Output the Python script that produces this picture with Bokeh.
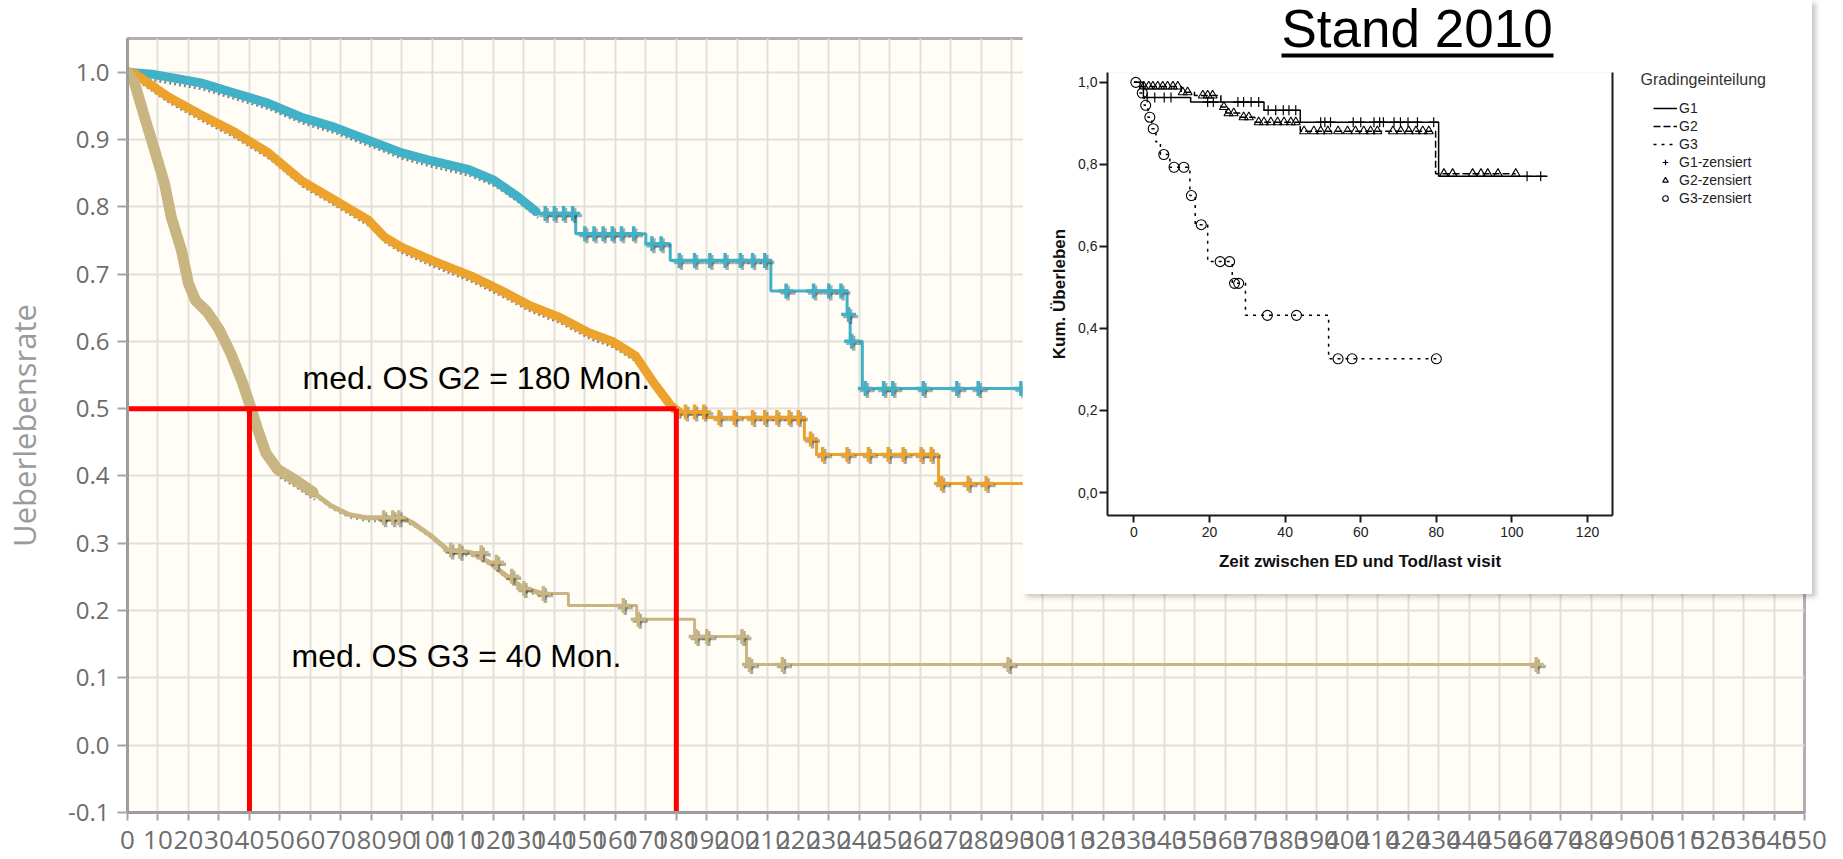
from bokeh.plotting import figure
from bokeh.models import (Range1d, FixedTicker, CustomJSTickFormatter, Label,
                          Legend, LegendItem)
from bokeh.embed import file_html
from bokeh.resources import INLINE

# ------------------------------------------------------------------
# Main chart data (months, survival rate)
# ------------------------------------------------------------------
x_ticks = list(range(0, 551, 10))
y_ticks = [-0.1, 0.0, 0.1, 0.2, 0.3, 0.4, 0.5, 0.6, 0.7, 0.8, 0.9, 1.0]

# G1 (teal)
g1_band_t = [0, 8, 24, 35, 46, 57, 68, 79, 90, 100, 112, 120, 128, 134]
g1_band_s = [1.0, 0.997, 0.984, 0.969, 0.954, 0.933, 0.918, 0.899, 0.880, 0.868, 0.855, 0.840, 0.815, 0.793]
g1_step_t = [134, 147, 170, 178, 211, 236, 237, 241, 300]
g1_step_s = [0.79, 0.76, 0.745, 0.72, 0.675, 0.64, 0.60, 0.53, 0.53]
g1_cens_t = [137, 140, 143, 146, 150, 153, 156, 159, 162, 166, 172, 175, 181, 186, 191, 196, 201, 205, 209,
             216, 225, 230, 234, 236.5, 237.5, 242, 248, 251, 261, 272, 279, 293]
g1_cens_s = [0.79, 0.79, 0.79, 0.79, 0.76, 0.76, 0.76, 0.76, 0.76, 0.76, 0.745, 0.745, 0.72, 0.72, 0.72, 0.72,
             0.72, 0.72, 0.72, 0.675, 0.675, 0.675, 0.675, 0.64, 0.60, 0.53, 0.53, 0.53, 0.53, 0.53, 0.53, 0.53]

# G2 (orange)
g2_band_t = [0, 2.3, 13.4, 24.3, 35.1, 46.2, 57, 67.9, 79, 84.3, 89.8, 100, 112.8, 122.4, 132, 141.6,
             151.3, 159, 166.7, 172.5, 178.3, 181]
g2_band_s = [1.0, 0.998, 0.963, 0.936, 0.911, 0.880, 0.839, 0.810, 0.780, 0.755, 0.740, 0.720, 0.697, 0.676,
             0.653, 0.636, 0.613, 0.600, 0.578, 0.539, 0.504, 0.495]
g2_step_t = [181, 190, 222, 226, 266, 300]
g2_step_s = [0.495, 0.487, 0.455, 0.432, 0.389, 0.389]
g2_cens_t = [183, 186, 189, 194, 199, 205, 209, 213, 217, 220, 224, 228, 236, 243, 249.5, 254.4, 260.3,
             263.6, 267, 275.7, 281.6]
g2_cens_s = [0.495, 0.495, 0.495, 0.487, 0.487, 0.487, 0.487, 0.487, 0.487, 0.487, 0.455, 0.432, 0.432,
             0.432, 0.432, 0.432, 0.432, 0.432, 0.389, 0.389, 0.389]

# G3 (tan)
g3_band_t = [0, 2.3, 5.6, 8.9, 12.1, 14.4, 17.7, 20, 22.3, 26.1, 30, 33.8, 37.7, 40.4, 42.7, 45.4, 49.2, 55, 60.8]
g3_band_s = [1.0, 0.984, 0.933, 0.884, 0.835, 0.784, 0.735, 0.686, 0.661, 0.644, 0.618, 0.583, 0.539, 0.502,
             0.469, 0.434, 0.410, 0.394, 0.376]
g3_mid_t = [60.8, 66.6, 72.4, 78.2, 90, 93.6, 99.3, 105, 112.8, 118.6, 124.4, 130, 136]
g3_mid_s = [0.376, 0.356, 0.343, 0.338, 0.338, 0.330, 0.312, 0.290, 0.286, 0.272, 0.251, 0.233, 0.2255]
g3_step_t = [136, 144.6, 167, 186, 203, 462]
g3_step_s = [0.2255, 0.2077, 0.187, 0.1616, 0.12, 0.12]
g3_cens_t = [84, 87, 89, 106, 109, 116, 121, 126, 130, 136.4, 162.6, 167.5, 186.5, 190, 201.5, 204, 214.8, 288.8, 462]
g3_cens_s = [0.338, 0.338, 0.338, 0.290, 0.288, 0.286, 0.272, 0.251, 0.233, 0.2255, 0.2077, 0.187, 0.1616,
             0.1616, 0.1616, 0.12, 0.12, 0.12, 0.12]

# medians
median_months = [40, 180]
median_level = 0.5

# ------------------------------------------------------------------
# Inset (SPSS, Stand 2010) data
# ------------------------------------------------------------------
in_x_ticks = [0, 20, 40, 60, 80, 100, 120]
in_y_ticks = [0.0, 0.2, 0.4, 0.6, 0.8, 1.0]
legend_labels = ["G1", "G2", "G3", "G1-zensiert", "G2-zensiert", "G3-zensiert"]

i1_t = [0, 2.5, 15, 34.4, 44, 80.6, 109.4]
i1_s = [1.0, 0.963, 0.952, 0.932, 0.903, 0.771, 0.771]
i1_cens_t = [3.5, 5.5, 8, 9.8, 19.5, 21, 27.5, 29, 31, 33, 35.5, 37.5, 39.5, 41, 42.8,
             49.4, 50.5, 52, 58, 60, 63.5, 65, 66, 68.8, 70.5, 72.5, 75, 79.3, 104, 107.6]
i1_cens_s = [0.963, 0.963, 0.963, 0.963, 0.952, 0.952, 0.952, 0.952, 0.952, 0.952, 0.932, 0.932, 0.932, 0.932, 0.932,
             0.903, 0.903, 0.903, 0.903, 0.903, 0.903, 0.903, 0.903, 0.903, 0.903, 0.903, 0.903, 0.903, 0.771, 0.771]

i2_t = [0, 1.5, 12.5, 16, 23, 24.3, 28, 32, 44, 79.8, 101]
i2_s = [1.0, 0.99, 0.976, 0.968, 0.94, 0.925, 0.915, 0.903, 0.881, 0.777, 0.777]
i2_cens_t = [2.6, 3.9, 5.0, 6.3, 7.6, 8.9, 10.3, 11.6, 12.9, 14.2, 18.2, 19.5, 20.8, 23.8, 25, 26.4, 29, 30.4,
             33, 34.4, 36.2, 38, 39.7, 41.5, 42.8, 45, 47.6, 49.4, 51.3, 54, 56.5, 58.6, 60.8, 62.6, 64.4,
             68.5, 70.6, 72.7, 74.6, 76.4, 78, 82, 84.3, 89.6, 91.8, 93.6, 96.3, 101]
i2_cens_s = [0.99, 0.99, 0.99, 0.99, 0.99, 0.99, 0.99, 0.99, 0.976, 0.976, 0.968, 0.968, 0.968, 0.94, 0.925, 0.925,
             0.915, 0.915, 0.903, 0.903, 0.903, 0.903, 0.903, 0.903, 0.903, 0.881, 0.881, 0.881, 0.881, 0.881,
             0.881, 0.881, 0.881, 0.881, 0.881, 0.881, 0.881, 0.881, 0.881, 0.881, 0.881, 0.777, 0.777, 0.777,
             0.777, 0.777, 0.777, 0.777]

i3_t = [0, 1.5, 2.7, 3.7, 4.7, 5.8, 7, 9.5, 14.8, 16.2, 19.5, 26, 29.5, 51.5, 80]
i3_s = [1.0, 0.974, 0.944, 0.915, 0.887, 0.855, 0.824, 0.793, 0.724, 0.653, 0.563, 0.51, 0.432, 0.326, 0.326]
i3_cens_t = [0.5, 2.2, 3.1, 4.2, 5.1, 7.9, 10.6, 13.2, 15.2, 17.8, 22.8, 25.3, 26.6, 27.7, 35.3, 43, 54, 57.7, 80]
i3_cens_s = [1.0, 0.974, 0.944, 0.915, 0.887, 0.824, 0.793, 0.793, 0.724, 0.653, 0.563, 0.563, 0.51, 0.51,
             0.432, 0.432, 0.326, 0.326, 0.326]

# ------------------------------------------------------------------
# Styling / main figure
# ------------------------------------------------------------------
TEAL = "#41b1c7"
ORANGE = "#eba32e"
TAN = "#c8b582"
GRAY_TXT = "#6d6d6d"

W, H = 1843, 859
BL, BT, BR, BB = 126, 38, 39, 47
X0, X1 = 0, 550
Y0, Y1 = -0.1, 1.05
PX_X = (W - BL - BR) / (X1 - X0)
PX_Y = (H - BT - BB) / (Y1 - Y0)

p = figure(width=W, height=H, output_backend="svg", toolbar_location=None,
           x_range=Range1d(X0, X1), y_range=Range1d(Y0, Y1),
           min_border_left=BL, min_border_right=BR, min_border_top=BT, min_border_bottom=BB)
p.background_fill_color = "#fffdf5"
p.border_fill_color = "white"
p.outline_line_color = "#b0b0b0"
p.outline_line_width = 3

p.xaxis.ticker = FixedTicker(ticks=x_ticks)
p.yaxis.ticker = FixedTicker(ticks=y_ticks)
p.yaxis.formatter = CustomJSTickFormatter(code="return tick.toFixed(1)")
p.xgrid.ticker = FixedTicker(ticks=x_ticks)
p.ygrid.ticker = FixedTicker(ticks=y_ticks)
for g in (p.xgrid, p.ygrid):
    g.grid_line_color = "#e2e0da"
    g.grid_line_width = 2

for ax in (p.xaxis, p.yaxis):
    ax.axis_line_color = "#9c9c9c"
    ax.axis_line_width = 3
    ax.major_tick_line_color = "#a5a5a5"
    ax.major_tick_line_width = 2
    ax.major_tick_in = 0
    ax.minor_tick_in = 0
    ax.minor_tick_out = 0
    ax.major_label_text_color = GRAY_TXT
    ax.major_label_text_font = "Open Sans"

p.xaxis.major_tick_out = 8
p.xaxis.major_label_text_font_size = "26px"
p.xaxis.major_label_standoff = 10
p.yaxis.major_tick_out = 10
p.yaxis.major_label_text_font_size = "24px"
p.yaxis.major_label_standoff = 8
p.yaxis.axis_label = "Ueberlebensrate"
p.yaxis.axis_label_text_font = "Open Sans"
p.yaxis.axis_label_text_font_size = "31px"
p.yaxis.axis_label_text_font_style = "normal"
p.yaxis.axis_label_text_color = "#9a9a9a"
p.yaxis.axis_label_standoff = 20

sdx = 2.0 / PX_X
sdy = 2.0 / PX_Y


def draw_curve(band_t, band_s, step_t, step_s, cens_t, cens_s, color, band_w, mid_t=None, mid_s=None):
    p.line([t + sdx for t in band_t], [s - sdy * band_w / 3 for s in band_s], line_width=3,
           color="#222222", alpha=0.55, line_dash="2 3")
    p.line(band_t, band_s, line_width=band_w, color=color, line_join="round", line_cap="round")
    if mid_t is not None:
        p.line([t + sdx for t in mid_t], [s - sdy * 1.5 for s in mid_s], line_width=3,
               color="#222222", alpha=0.45, line_dash="2 4")
        p.line(mid_t, mid_s, line_width=5, color=color, line_join="round")
    p.step(step_t, step_s, mode="after", line_width=3, color=color)
    sh_t = [t + sdx for t in cens_t]
    sh_s = [s - sdy for s in cens_s]
    p.scatter(sh_t, sh_s, marker="cross", size=15, line_width=3.5, line_color="#333333", line_alpha=0.4)
    p.scatter(sh_t, sh_s, marker="diamond", size=9, fill_color="#333333", fill_alpha=0.4, line_color=None)
    p.scatter(cens_t, cens_s, marker="cross", size=15, line_width=3.5, line_color=color)
    p.scatter(cens_t, cens_s, marker="diamond", size=9, fill_color=color, line_color=None)


draw_curve(g1_band_t, g1_band_s, g1_step_t, g1_step_s, g1_cens_t, g1_cens_s, TEAL, 9)
draw_curve(g2_band_t, g2_band_s, g2_step_t, g2_step_s, g2_cens_t, g2_cens_s, ORANGE, 9)
draw_curve(g3_band_t, g3_band_s, g3_step_t, g3_step_s, g3_cens_t, g3_cens_s, TAN, 11, g3_mid_t, g3_mid_s)

# median markers (red)
p.line([X0, max(median_months)], [median_level, median_level], line_width=5, color="#ff0000")
p.segment(x0=median_months, y0=[median_level] * len(median_months),
          x1=median_months, y1=[Y0] * len(median_months), line_width=5, color="#ff0000")

p.add_layout(Label(x=57.4, y=0.545, text="med. OS G2 = 180 Mon.", text_font="Liberation Sans",
                   text_font_size="32px", text_color="black", text_baseline="middle"))
p.add_layout(Label(x=53.8, y=0.133, text="med. OS G3 = 40 Mon.", text_font="Liberation Sans",
                   text_font_size="32px", text_color="black", text_baseline="middle"))

# ------------------------------------------------------------------
# Inset figure (white box on top right), placed absolutely on the page
# ------------------------------------------------------------------
IW, IH = 790, 594
IBL, IBT, IBR, IBB = 85, 72, 200, 79
IX0, IX1 = -7, 126.6
IY0, IY1 = -0.056, 1.024

q = figure(width=IW, height=IH, output_backend="svg", toolbar_location=None,
           x_range=Range1d(IX0, IX1), y_range=Range1d(IY0, IY1),
           min_border_left=IBL, min_border_right=IBR, min_border_top=IBT, min_border_bottom=IBB,
           styles={"position": "absolute", "left": "1022px", "top": "0px",
                   "box-shadow": "4px 3px 5px rgba(0,0,0,0.22)"})
q.background_fill_color = "white"
q.border_fill_color = "white"
q.outline_line_color = None
q.grid.visible = False

q.xaxis.ticker = FixedTicker(ticks=in_x_ticks)
q.yaxis.ticker = FixedTicker(ticks=in_y_ticks)
q.yaxis.formatter = CustomJSTickFormatter(code="return tick.toFixed(1).replace('.', ',')")
for ax in (q.xaxis, q.yaxis):
    ax.axis_line_color = "#1a1a1a"
    ax.axis_line_width = 2
    ax.major_tick_line_color = "#1a1a1a"
    ax.major_tick_line_width = 2
    ax.major_tick_in = 0
    ax.minor_tick_in = 0
    ax.minor_tick_out = 0
    ax.major_label_text_font = "Liberation Sans"
    ax.major_label_text_font_size = "14px"
    ax.major_label_text_color = "#222222"
    ax.axis_label_text_font = "Liberation Sans"
    ax.axis_label_text_font_size = "17px"
    ax.axis_label_text_font_style = "bold"
    ax.axis_label_text_color = "#111111"
q.xaxis.major_tick_out = 7
q.xaxis.major_label_standoff = 4
q.xaxis.axis_label = "Zeit zwischen ED und Tod/last visit"
q.xaxis.axis_label_standoff = 12
q.yaxis.major_tick_out = 8
q.yaxis.major_label_standoff = 2
q.yaxis.axis_label = "Kum. Überleben"
q.yaxis.axis_label_standoff = 6

# right border line of the SPSS frame
q.segment(x0=[IX1], y0=[IY0], x1=[IX1], y1=[IY1], line_width=2, color="#1a1a1a", level="overlay")

G2_DASH = "7 3"
G3_DASH = "3 5"
q.step(i1_t, i1_s, mode="after", line_width=1.5, color="black")
q.step(i2_t, i2_s, mode="after", line_width=1.5, color="black", line_dash=G2_DASH)
q.step(i3_t, i3_s, mode="after", line_width=1.5, color="black", line_dash=G3_DASH)
q.scatter(i1_cens_t, i1_cens_s, marker="cross", size=10, line_color="black", line_width=1.2)
q.scatter(i2_cens_t, i2_cens_s, marker="triangle", size=9, fill_color=None, line_color="black", line_width=1.1)
q.scatter(i3_cens_t, i3_cens_s, marker="circle", size=10, fill_color=None, line_color="black", line_width=1.1)

# ------------------------------------------------------------------
# Title "Stand 2010" (underlined) as a small overlay figure (pixel units)
# ------------------------------------------------------------------
TW, TH = 290, 62
tf = figure(width=TW, height=TH, output_backend="svg", toolbar_location=None,
            x_range=Range1d(0, TW), y_range=Range1d(0, TH), min_border=0,
            styles={"position": "absolute", "left": "1275px", "top": "0px"})
tf.axis.visible = False
tf.grid.visible = False
tf.outline_line_color = None
tf.background_fill_color = "white"
tf.border_fill_color = "white"
tf.add_layout(Label(x=6, y=34, text="Stand 2010", text_font="Liberation Sans", text_font_size="53px",
                    text_color="black", text_baseline="middle"))
tf.segment(x0=[6], y0=[7], x1=[278], y1=[7], line_width=4, color="black")

# ------------------------------------------------------------------
# Legend of the SPSS chart as a small overlay figure.
# Its proxy renderers reuse the first point of each inset series; the
# figure's ranges lie far away from them, so only the legend shows.
# ------------------------------------------------------------------
LW, LH = 170, 140
LX0, LY0 = 500, 500
lg = figure(width=LW, height=LH, output_backend="svg", toolbar_location=None,
            x_range=Range1d(LX0, LX0 + LW), y_range=Range1d(LY0, LY0 + LH), min_border=0,
            styles={"position": "absolute", "left": "1636px", "top": "68px"})
lg.axis.visible = False
lg.grid.visible = False
lg.outline_line_color = None
lg.background_fill_color = "white"
lg.border_fill_color = "white"
k1 = lg.step(i1_t[:2], i1_s[:2], mode="after", line_width=1.5, color="black")
k2 = lg.step(i2_t[:2], i2_s[:2], mode="after", line_width=1.5, color="black", line_dash=G2_DASH)
k3 = lg.step(i3_t[:2], i3_s[:2], mode="after", line_width=1.5, color="black", line_dash=G3_DASH)
k4 = lg.scatter(i1_cens_t[:1], i1_cens_s[:1], marker="cross", size=10, line_color="black", line_width=1.2)
k5 = lg.scatter(i2_cens_t[:1], i2_cens_s[:1], marker="triangle", size=9, fill_color=None, line_color="black",
                line_width=1.1)
k6 = lg.scatter(i3_cens_t[:1], i3_cens_s[:1], marker="circle", size=10, fill_color=None, line_color="black",
                line_width=1.1)
legend = Legend(items=[LegendItem(label=lab, renderers=[r])
                       for lab, r in zip(legend_labels, [k1, k2, k3, k4, k5, k6])],
                location=(17, 2), label_text_font="Liberation Sans", label_text_font_size="14px",
                label_text_color="#222222", glyph_width=24, glyph_height=14, label_height=14,
                label_standoff=2, spacing=2, padding=0, margin=0, border_line_color=None,
                background_fill_alpha=0)
lg.add_layout(legend)
lg.add_layout(Label(x=LX0 + 4, y=LY0 + 129, text="Gradingeinteilung", text_font="Liberation Sans",
                    text_font_size="16px", text_color="#333333", text_baseline="middle"))

open("out.html", "w").write(file_html([p, q, tf, lg], INLINE))
